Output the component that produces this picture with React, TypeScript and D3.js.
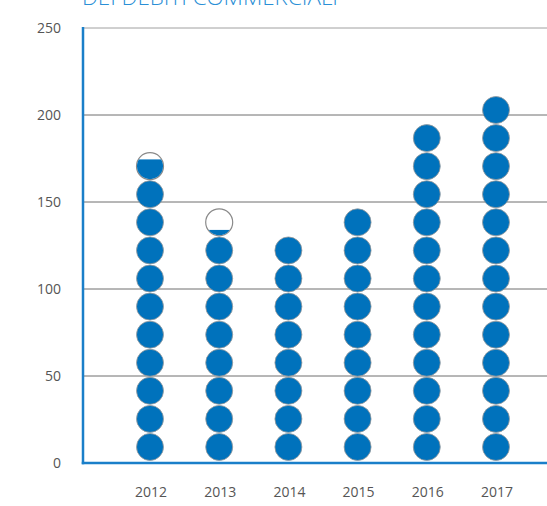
import React from "react";
import * as d3 from "d3";

const years = ["2012", "2013", "2014", "2015", "2016", "2017"];
const values = [172, 131.5, 128, 144, 192, 208];
const yTicks = [0, 50, 100, 150, 200, 250];
const UNIT = 16; // value represented by one circle
const titleText = "DEI DEBITI COMMERCIALI";

const W = 547;
const H = 506;
const left = 83;
const right = 547;
const top = 28;
const bottom = 463;
const STEP = 16.14; // layout step per circle in value units
const OFFSET = 9.2;
const R = 13.5;
const BLUE = "#0072bc";

export default function App() {
  const y = d3.scaleLinear().domain([0, 250]).range([bottom, top]);
  const x = d3.scalePoint<string>().domain(years).range([150, 496]);

  const circles: React.ReactNode[] = [];
  years.forEach((yr, i) => {
    const n = values[i] / UNIT;
    const full = Math.floor(n + 1e-6);
    const frac = n - full;
    const cx = x(yr)!;
    for (let k = 0; k < full; k++) {
      const cy = y(OFFSET + k * STEP);
      circles.push(
        <circle key={`${yr}-${k}`} cx={cx} cy={cy} r={R} fill={BLUE} stroke="#9a9a9a" strokeWidth={0.8} />
      );
    }
    if (frac > 0.02) {
      const cy = y(OFFSET + full * STEP);
      const id = `clip-${yr}`;
      const fillTop = cy + R - 2 * R * frac;
      circles.push(
        <g key={`${yr}-p`}>
          <defs>
            <clipPath id={id}>
              <circle cx={cx} cy={cy} r={R - 0.5} />
            </clipPath>
          </defs>
          <circle cx={cx} cy={cy} r={R} fill="#fff" stroke="#8a8a8a" strokeWidth={1.2} />
          <rect x={cx - R} y={fillTop} width={2 * R} height={cy + R - fillTop} fill={BLUE} clipPath={`url(#${id})`} />
        </g>
      );
    }
  });

  return (
    <svg width={W} height={H} style={{ position: "absolute", left: 0, top: 0 }} fontFamily="'Open Sans', sans-serif">
      <rect width={W} height={H} fill="#fff" />
      <text x={82} y={5} fill="#2a8fd6" fontSize={21} fontWeight={300} textLength={256} lengthAdjust="spacingAndGlyphs">
        {titleText}
      </text>
      {yTicks.map((t) => (
        <g key={t}>
          {t > 0 && (
            <line x1={left} x2={right} y1={y(t)} y2={y(t)} stroke={t === 250 ? "#a0a0a0" : "#6e6e6e"} strokeWidth={1} />
          )}
          <text x={61} y={y(t)} dy="0.36em" textAnchor="end" fontSize={14} fill="#555">
            {t}
          </text>
        </g>
      ))}
      {circles}
      <line x1={left} x2={left} y1={top - 1} y2={bottom + 1.25} stroke="#1a7fc9" strokeWidth={2.5} />
      <line x1={left - 1.25} x2={right} y1={bottom} y2={bottom} stroke="#1a7fc9" strokeWidth={2.5} />
      {years.map((yr) => (
        <text key={yr} x={x(yr)! + 1} y={497} textAnchor="middle" fontSize={14} fill="#555">
          {yr}
        </text>
      ))}
    </svg>
  );
}
